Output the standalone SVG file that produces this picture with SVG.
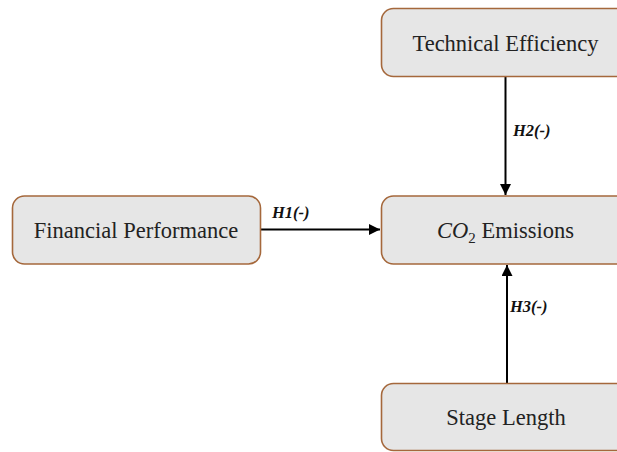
<svg xmlns="http://www.w3.org/2000/svg" width="617" height="452" viewBox="0 0 617 452">
<style>
.box{fill:#e6e6e6;stroke:#a5683c;stroke-width:1.6}
.t{font-family:"Liberation Serif","Times New Roman",serif;font-size:22.5px;fill:#222;text-anchor:middle}
.lab{font-family:"Liberation Serif","Times New Roman",serif;font-size:16.5px;font-weight:bold;font-style:italic;fill:#111}
.c{stroke:#000;stroke-width:2;fill:none}
</style>
<defs>
<marker id="ah" viewBox="0 0 10 10" refX="10" refY="5" markerWidth="5.5" markerHeight="5.5" orient="auto" markerUnits="strokeWidth">
<path d="M0,0 L10,5 L0,10 z" fill="#000"/>
</marker>
</defs>
<rect width="617" height="452" fill="#fff"/>
<g id="connectors">
<line class="c" x1="261" y1="229.5" x2="380" y2="229.5" marker-end="url(#ah)"/>
<text class="lab" x="272" y="218">H1(-)</text>
<line class="c" x1="505.5" y1="77" x2="505.5" y2="195" marker-end="url(#ah)"/>
<text class="lab" x="513" y="136">H2(-)</text>
<line class="c" x1="507" y1="383" x2="507" y2="265" marker-end="url(#ah)"/>
<text class="lab" x="510" y="312">H3(-)</text>
</g>
<g id="technical-efficiency">
<rect class="box" x="381.5" y="8.5" width="248" height="68" rx="12"/>
<text class="t" x="505.5" y="51">Technical Efficiency</text>
</g>
<g id="financial-performance">
<rect class="box" x="12.5" y="196" width="248" height="68" rx="12"/>
<text class="t" x="136" y="238">Financial Performance</text>
</g>
<g id="co2-emissions">
<rect class="box" x="381.5" y="196" width="248" height="68" rx="12"/>
<text class="t" x="505.5" y="238"><tspan font-style="italic">CO</tspan><tspan font-size="15" dy="5">2</tspan><tspan dy="-5"> Emissions</tspan></text>
</g>
<g id="stage-length">
<rect class="box" x="381.5" y="383.5" width="248" height="67" rx="12"/>
<text class="t" x="506" y="425">Stage Length</text>
</g>
</svg>
